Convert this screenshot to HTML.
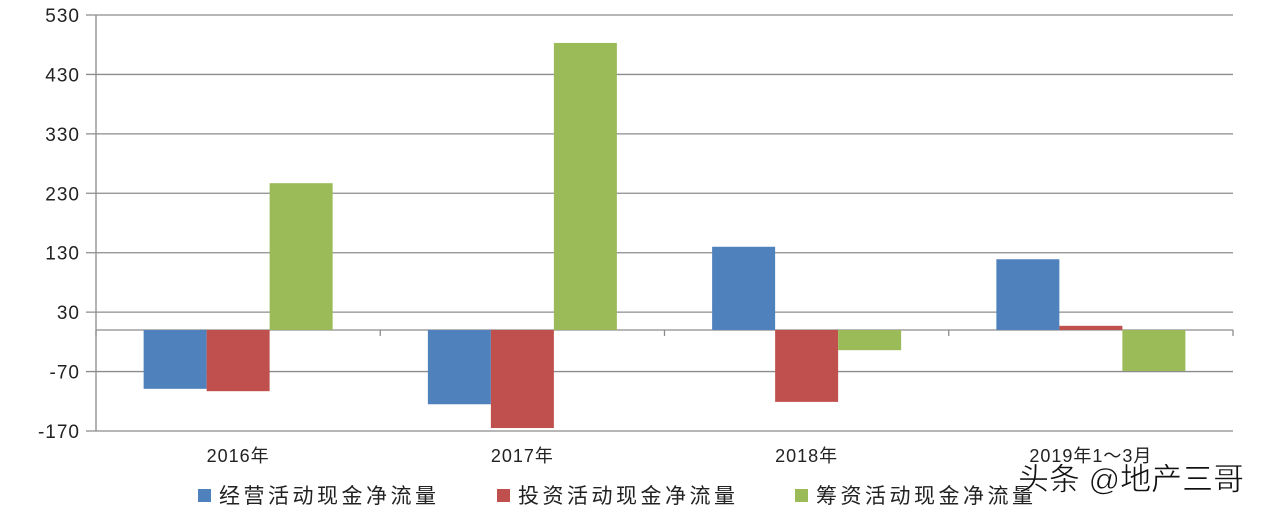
<!DOCTYPE html>
<html><head><meta charset="utf-8"><style>
body{margin:0;background:#fff;width:1266px;height:508px;overflow:hidden}
svg{font-family:"Liberation Sans","Noto Sans CJK SC",sans-serif}
</style></head><body>
<svg id="chart" width="1266" height="508"></svg>
<script>
const categories=["2016年","2017年","2018年","2019年1～3月"];
const seriesNames=["经营活动现金净流量","投资活动现金净流量","筹资活动现金净流量"];
const operating=[-99,-125,140,119];
const investing=[-103,-165,-121,7];
const financing=[247,483,-34,-69];
const ticks=[530,430,330,230,130,30,-70,-170];
const colors=["#4f81bd","#c0504d","#9bbb59"];
const NS="http://www.w3.org/2000/svg";
const svg=document.getElementById('chart');
const L=96,R=1233,yTop=15,yBot=431,vMax=530,vMin=-170;
const y=v=>yTop+(vMax-v)/(vMax-vMin)*(yBot-yTop);
const cw=(R-L)/categories.length;
function mk(t,a){const e=document.createElementNS(NS,t);for(const k in a)e.setAttribute(k,a[k]);svg.appendChild(e);return e;}
ticks.forEach(t=>{
 const g=mk('line',{x1:86,x2:R,y1:y(t),y2:y(t),stroke:'#8c8c8c','stroke-width':1.3});
 
 
 const tx=mk('text',{x:80,y:y(t)+7,'text-anchor':'end','font-size':19,fill:'#222','letter-spacing':1});
 tx.textContent=t;
 
 
});
const ax=mk('line',{x1:L,x2:L,y1:yTop,y2:yBot,stroke:'#8c8c8c','stroke-width':1.3});


const zl=mk('line',{x1:L,x2:R,y1:y(0),y2:y(0),stroke:'#8c8c8c','stroke-width':1.3});


for(let i=0;i<=categories.length;i++){
 const tk=mk('line',{x1:L+i*cw,x2:L+i*cw,y1:y(0),y2:y(0)+6,stroke:'#8c8c8c','stroke-width':1.3});
 
 
}
const all=[operating,investing,financing];
const bw=63;
categories.forEach((c,i)=>{
 const cx=L+cw*(i+0.5);
 all.forEach((s,j)=>{
  const v=s[i];const x0=cx-1.5*bw+j*bw;
  const r=mk('rect',{x:x0,y:Math.min(y(v),y(0)),width:bw,height:Math.abs(y(v)-y(0)),fill:colors[j]});
  
  
 });
 const t=mk('text',{x:cx,y:462,'text-anchor':'middle','font-size':18,fill:'#222','letter-spacing':1});
 t.textContent=c;
 
 
});
const lx=[198,497,795];
seriesNames.forEach((n,j)=>{
 const s=mk('rect',{x:lx[j],y:489,width:13,height:13,fill:colors[j]});
 
 
 const t=mk('text',{x:lx[j]+21,y:503,'font-size':21,fill:'#222','letter-spacing':3.5});
 t.textContent=n;
 
 
});
const w=mk('text',{x:1018,y:490,'font-size':31,fill:'#111',stroke:'#fff','stroke-width':0.6});
w.textContent="头条 @地产三哥";


</script>
</body></html>
